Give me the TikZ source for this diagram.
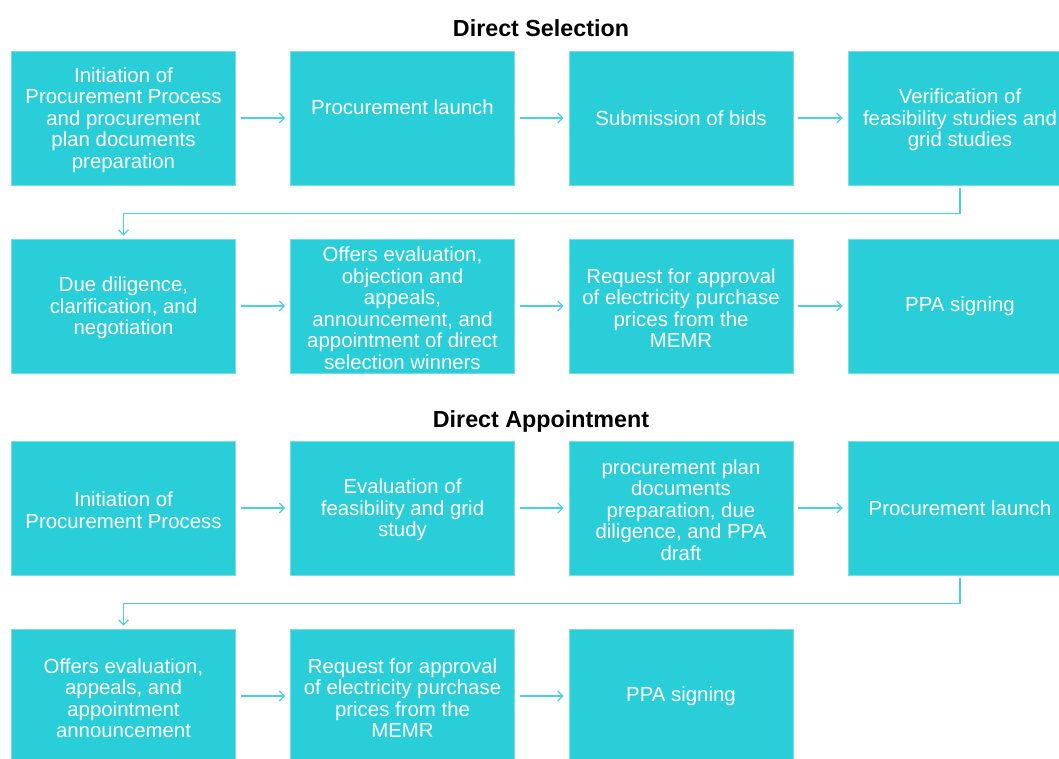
\documentclass[tikz,border=0pt]{standalone}
\usepackage{fontspec}
\setmainfont{Liberation Sans}
\usetikzlibrary{arrows.meta}
\definecolor{boxfill}{RGB}{42,206,216}
\definecolor{boxedge}{RGB}{120,222,228}
\definecolor{linecol}{RGB}{72,210,220}

\begin{document}
\begin{tikzpicture}[x=1pt,y=-1pt,
  stepbox/.style={fill=boxfill, draw=boxedge, line width=0.6pt,
    minimum width=224pt, minimum height=134pt, inner sep=0pt,
    text=white, align=center, font=\fontsize{20.4}{21.5}\selectfont},
  title/.style={font=\bfseries\fontsize{23.3}{26}\selectfont, text=black},
  arr/.style={draw=linecol, line width=1.3pt,
    -{Straight Barb[length=5pt,width=10pt,line width=1.3pt]},
    shorten <=5pt, shorten >=5pt},
  elbow/.style={draw=linecol, line width=1.3pt,
    -{Straight Barb[length=5pt,width=10pt,line width=1.3pt]},
    shorten <=3pt, shorten >=3pt}]
\useasboundingbox (0,0) rectangle (1059,758);

% Direct Selection
\node[title] (t1) at (541,28) {Direct Selection};
\node[stepbox] (a1) at (123.5,118) {\rule{0pt}{19pt}Initiation of\\Procurement Process\\and procurement\\plan documents\\preparation};
\node[stepbox] (a2) at (402.5,118) {Procurement launch\\\rule{0pt}{1pt}};
\node[stepbox] (a3) at (681,118) {Submission of bids};
\node[stepbox] (a4) at (960,118) {\rule{0pt}{19pt}Verification of\\feasibility studies and\\grid studies};
\node[stepbox] (b1) at (123.5,306) {\rule{0pt}{19pt}Due diligence,\\clarification, and\\negotiation};
\node[stepbox] (b2) at (402.5,306) {\rule{0pt}{19pt}Offers evaluation,\\objection and\\appeals,\\announcement, and\\appointment of direct\\selection winners};
\node[stepbox] (b3) at (681,306) {\rule{0pt}{19pt}Request for approval\\of electricity purchase\\prices from the\\MEMR};
\node[stepbox] (b4) at (960,306) {PPA signing};

\draw[arr] (a1) -- (a2);
\draw[arr] (a2) -- (a3);
\draw[arr] (a3) -- (a4);
\draw[elbow] (a4.south) -- ++(0,28) -| (b1.north);
\draw[arr] (b1) -- (b2);
\draw[arr] (b2) -- (b3);
\draw[arr] (b3) -- (b4);

% Direct Appointment
\node[title] (t2) at (541,421) {Direct Appointment};
\node[stepbox] (c1) at (123.5,508) {\rule{0pt}{19pt}Initiation of\\Procurement Process};
\node[stepbox] (c2) at (402.5,508) {\rule{0pt}{19pt}Evaluation of\\feasibility and grid\\study};
\node[stepbox] (c3) at (681,508) {\rule{0pt}{19pt}procurement plan\\documents\\preparation, due\\diligence, and PPA\\draft};
\node[stepbox] (c4) at (960,508) {Procurement launch};
\node[stepbox] (d1) at (123.5,696) {\rule{0pt}{19pt}Offers evaluation,\\appeals, and\\appointment\\announcement};
\node[stepbox] (d2) at (402.5,696) {\rule{0pt}{19pt}Request for approval\\of electricity purchase\\prices from the\\MEMR};
\node[stepbox] (d3) at (681,696) {PPA signing};

\draw[arr] (c1) -- (c2);
\draw[arr] (c2) -- (c3);
\draw[arr] (c3) -- (c4);
\draw[elbow] (c4.south) -- ++(0,28) -| (d1.north);
\draw[arr] (d1) -- (d2);
\draw[arr] (d2) -- (d3);
\end{tikzpicture}
\end{document}
